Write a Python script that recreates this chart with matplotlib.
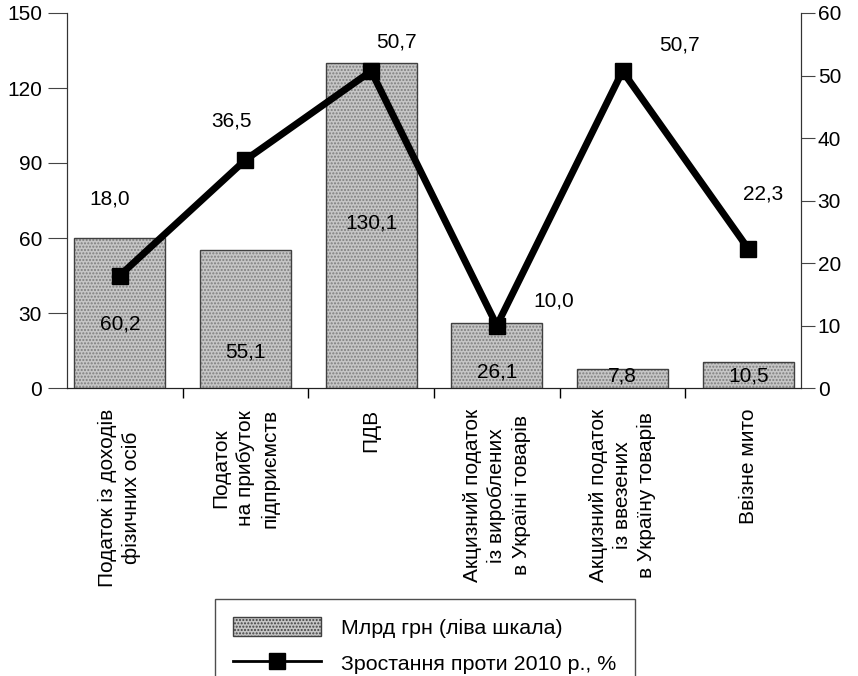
import matplotlib
matplotlib.use("Agg")
import matplotlib.pyplot as plt
from matplotlib.patches import Patch
from matplotlib.lines import Line2D

plt.rcParams['font.family'] = ['Liberation Sans', 'DejaVu Sans']

categories = [
    "Податок із доходів\nфізичних осіб",
    "Податок\nна прибуток\nпідприємств",
    "ПДВ",
    "Акцизний податок\nіз вироблених\nв Україні товарів",
    "Акцизний податок\nіз ввезених\nв Україну товарів",
    "Ввізне мито",
]
bln_uah = [60.2, 55.1, 130.1, 26.1, 7.8, 10.5]
growth_pct = [18.0, 36.5, 50.7, 10.0, 50.7, 22.3]
left_ticks = [0, 30, 60, 90, 120, 150]
right_ticks = [0, 10, 20, 30, 40, 50, 60]
bar_label = "Млрд грн (ліва шкала)"
line_label = "Зростання проти 2010 р., %"

# label placement (styling)
bar_label_y = [25.6, 14.4, 66.0, 6.4, 4.8, 4.8]
line_label_offsets = [(-10, 77), (-14, 39), (25, 29), (57, 25), (57, 26), (15, 55)]

FS = 15

def fmt(v):
    return f"{v:.1f}".replace(".", ",")

W, H = 858, 676
fig = plt.figure(figsize=(W / 100, H / 100), dpi=100)
ax = fig.add_axes([67 / W, 1 - 388 / H, (801 - 67) / W, (388 - 13) / H])
ax2 = ax.twinx()

x = list(range(len(categories)))
ax.bar(x, bln_uah, width=0.725, color='#c6c6c6', edgecolor='#7e7e7e',
       hatch='.....', linewidth=0, zorder=2)
ax.bar(x, bln_uah, width=0.725, fill=False, edgecolor='#404040',
       linewidth=1.0, zorder=3)
for xi, yl, v in zip(x, bar_label_y, bln_uah):
    ax.text(xi, yl, fmt(v), ha='center', va='center', fontsize=FS, zorder=4)

ax.set_ylim(0, 150)
ax.set_xlim(-0.42, len(categories) - 1 + 0.42)
ax.set_yticks(left_ticks)
ax.set_yticklabels([str(t) for t in left_ticks], fontsize=FS)
ax.set_xticks(x)
ax.set_xticklabels(categories, rotation=90, fontsize=FS, ha='center',
                   va='top', multialignment='center', linespacing=1.35)
ax.tick_params(axis='x', which='major', length=0, pad=15)
ax.set_xticks([i + 0.5 for i in x[:-1]], minor=True)
ax.tick_params(axis='x', which='minor', length=7, direction='out', width=1)
ax.tick_params(axis='y', length=14, direction='out', width=0.8, pad=4,
               color='#444444')

ax2.plot(x, growth_pct, color='black', linewidth=5, marker='s',
         markersize=12, zorder=5)
for xi, v, off in zip(x, growth_pct, line_label_offsets):
    ax2.annotate(fmt(v), (xi, v), xytext=off, textcoords='offset pixels',
                 ha='center', va='center', fontsize=FS)
ax2.set_ylim(0, 60)
ax2.set_yticks(right_ticks)
ax2.set_yticklabels([str(t) for t in right_ticks], fontsize=FS)
ax2.tick_params(axis='y', length=10, direction='out', width=0.8, pad=2,
                color='#444444')

for a in (ax, ax2):
    a.spines['top'].set_visible(False)
    a.spines['left'].set_color('#333333')
    a.spines['right'].set_color('#333333')
    a.spines['bottom'].set_color('#222222')
ax.set_zorder(ax2.get_zorder() - 1)
ax.patch.set_visible(False)
ax2.patch.set_visible(False)

handles = [
    Patch(facecolor='#c6c6c6', edgecolor='#404040', hatch='.....', linewidth=1),
    Line2D([0], [0], color='black', linewidth=2, marker='s', markersize=12),
]
leg = fig.legend(handles, [bar_label, line_label], loc='upper left',
                 bbox_to_anchor=(215 / W, 1 - 599 / H), fontsize=15.4,
                 frameon=True, fancybox=False, edgecolor='#222222',
                 handlelength=4.1, handleheight=1.0, handletextpad=0.95,
                 labelspacing=0.68, borderpad=0.85, borderaxespad=0)
leg.get_frame().set_linewidth(1.0)

fig.savefig("out.png", dpi=100)
